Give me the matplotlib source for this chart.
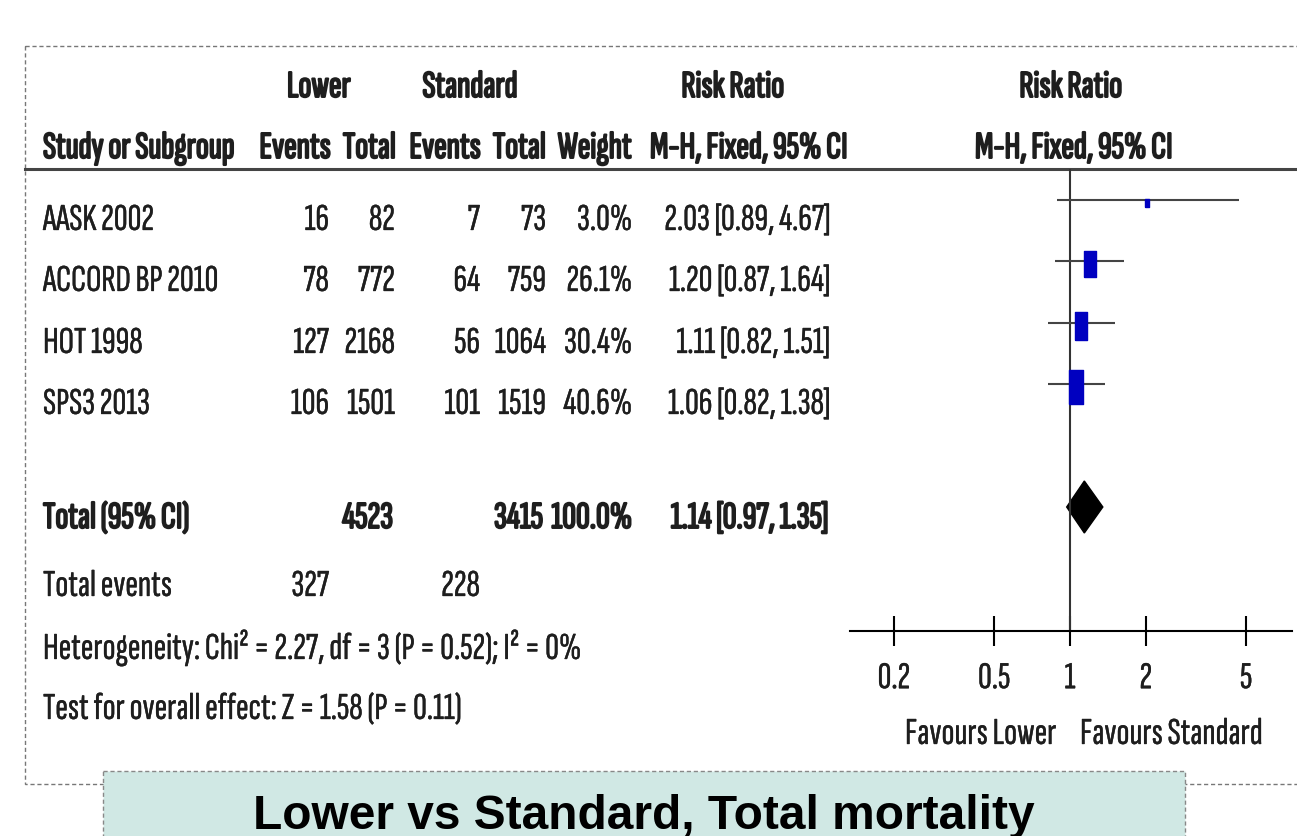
import numpy as np
import matplotlib
matplotlib.use("Agg")
import matplotlib.pyplot as plt
import matplotlib.patheffects as pe
from matplotlib.patches import Rectangle
from matplotlib.path import Path

studies = ["AASK 2002", "ACCORD BP 2010", "HOT 1998", "SPS3 2013"]
ev_low = [16, 78, 127, 106]
n_low = [82, 772, 2168, 1501]
ev_std = [7, 64, 56, 101]
n_std = [73, 759, 1064, 1519]
weight = [3.0, 26.1, 30.4, 40.6]
rr = [2.03, 1.20, 1.11, 1.06]
ci_lo = [0.89, 0.87, 0.82, 0.82]
ci_hi = [4.67, 1.64, 1.51, 1.38]

tot_n_low, tot_n_std = 4523, 3415
tot_ev_low, tot_ev_std = 327, 228
tot_weight = 100.0
tot_rr, tot_lo, tot_hi = 1.14, 0.97, 1.35
het_text = "Heterogeneity: Chi\u00b2 = 2.27, df = 3 (P = 0.52); I\u00b2 = 0%"
test_text = "Test for overall effect: Z = 1.58 (P = 0.11)"
ticks = [0.2, 0.5, 1, 2, 5]
tick_labels = ["0.2", "0.5", "1", "2", "5"]

plt.rcParams["font.family"] = ["Sofia Sans Extra Condensed", "DejaVu Sans"]
FS = 27.5
TXT = "#1e1e1e"
# the condensed face has no bold cut, so thicken with a stroke
BOLD = [pe.withStroke(linewidth=1.4, foreground=TXT)]
REG = [pe.withStroke(linewidth=0.25, foreground=TXT)]

W, H = 1297, 837
fig = plt.figure(figsize=(W / 100, H / 100), dpi=100)
ax = fig.add_axes([0, 0, 1, 1])
ax.set_xlim(0, W)
ax.set_ylim(H, 0)
ax.axis("off")

# frames
ax.add_patch(Rectangle((25, 47), 1300, 738, fill=False, ls=(0, (3, 2)), lw=1, ec="#777777", zorder=1))
ax.add_patch(Rectangle((103, 772), 1082, 80, fc="#d0e8e4", ls=(0, (3, 2)), lw=1, ec="#888888", zorder=2))
ax.text(644, 829, "Lower vs Standard, Total mortality", ha="center", va="baseline",
        fontsize=34.5, fontweight="bold", family="Liberation Sans", color="black", zorder=3)

# header
hb1, hb2 = 98, 159
hdr = dict(fontsize=FS, color=TXT, va="baseline", path_effects=BOLD)
ax.text(319, hb1, "Lower", ha="center", **hdr)
ax.text(470, hb1, "Standard", ha="center", **hdr)
ax.text(733, hb1, "Risk Ratio", ha="center", **hdr)
ax.text(1071, hb1, "Risk Ratio", ha="center", **hdr)
ax.text(43, hb2, "Study or Subgroup", ha="left", **hdr)
for x, s in zip([331, 396, 481, 546, 632], ["Events", "Total", "Events", "Total", "Weight"]):
    ax.text(x, hb2, s, ha="right", **hdr)
ax.text(749, hb2, "M-H, Fixed, 95% CI", ha="center", **hdr)
ax.text(1074, hb2, "M-H, Fixed, 95% CI", ha="center", **hdr)
ax.plot([25, W], [170, 170], color="#444444", lw=2.2)

# study rows
row_base = [231, 292, 354, 415]
cols = [329, 395, 480, 546, 632]
body = dict(fontsize=FS, color=TXT, va="baseline", path_effects=REG)
for i, yb in enumerate(row_base):
    ax.text(43, yb, studies[i], ha="left", **body)
    vals = [str(ev_low[i]), str(n_low[i]), str(ev_std[i]), str(n_std[i]), f"{weight[i]:.1f}%"]
    for x, v in zip(cols, vals):
        ax.text(x, yb, v, ha="right", **body)
    ax.text(830, yb, f"{rr[i]:.2f} [{ci_lo[i]:.2f}, {ci_hi[i]:.2f}]", ha="right", **body)

# total row
tb = 529
bold = dict(fontsize=FS, color=TXT, va="baseline", path_effects=BOLD)
ax.text(43, tb, "Total (95% CI)", ha="left", **bold)
ax.text(393, tb, str(tot_n_low), ha="right", **bold)
ax.text(543, tb, str(tot_n_std), ha="right", **bold)
ax.text(632, tb, f"{tot_weight:.1f}%", ha="right", **bold)
ax.text(828, tb, f"{tot_rr:.2f} [{tot_lo:.2f}, {tot_hi:.2f}]", ha="right", **bold)

ax.text(43, 597, "Total events", ha="left", **body)
ax.text(329, 597, str(tot_ev_low), ha="right", **body)
ax.text(480, 597, str(tot_ev_std), ha="right", **body)
ax.text(43, 660, het_text, ha="left", **body)
ax.text(43, 720, test_text, ha="left", **body)

# forest panel
x0, x1, xone, dec = 850, 1292, 1070, 252
fx = fig.add_axes([x0 / W, 0, (x1 - x0) / W, 1])
fx.set_facecolor("none")
fx.set_xscale("log")
fx.set_xlim(10 ** ((x0 - xone) / dec), 10 ** ((x1 - xone) / dec))
fx.set_ylim(H, 0)
for s in ["top", "left", "right"]:
    fx.spines[s].set_visible(False)
fx.spines["bottom"].set_position(("data", 632))
fx.spines["bottom"].set_linewidth(1.5)
fx.set_yticks([])
fx.set_xticks(ticks)
fx.set_xticklabels(tick_labels)
fx.minorticks_off()
fx.tick_params(axis="x", direction="inout", length=21, width=1.5, labelsize=FS, pad=12,
               colors="black", labelcolor=TXT)
for lab in fx.get_xticklabels():
    lab.set_path_effects(REG)

fx.vlines(1, 170, 632, color="#333333", lw=1.5)
forest_y = [201, 262, 324, 385]
box = Path([(-0.225, -0.5), (0.225, -0.5), (0.225, 0.5), (-0.225, 0.5), (-0.225, -0.5)])
for i, y in enumerate(forest_y):
    fx.hlines(y, ci_lo[i], ci_hi[i], color="#444444", lw=1.5)
    fx.plot(rr[i], y + 3, marker=box, ms=3.74 * np.sqrt(weight[i]), color="#0000c0", ls="none")
dy = 508
fx.fill([tot_lo, tot_rr, tot_hi, tot_rr], [dy, dy - 26, dy, dy + 26], color="black")

ax.text(1057, 745, "Favours Lower", ha="right", **body)
ax.text(1080, 745, "Favours Standard", ha="left", **body)

fig.savefig("out.png", dpi=100)
